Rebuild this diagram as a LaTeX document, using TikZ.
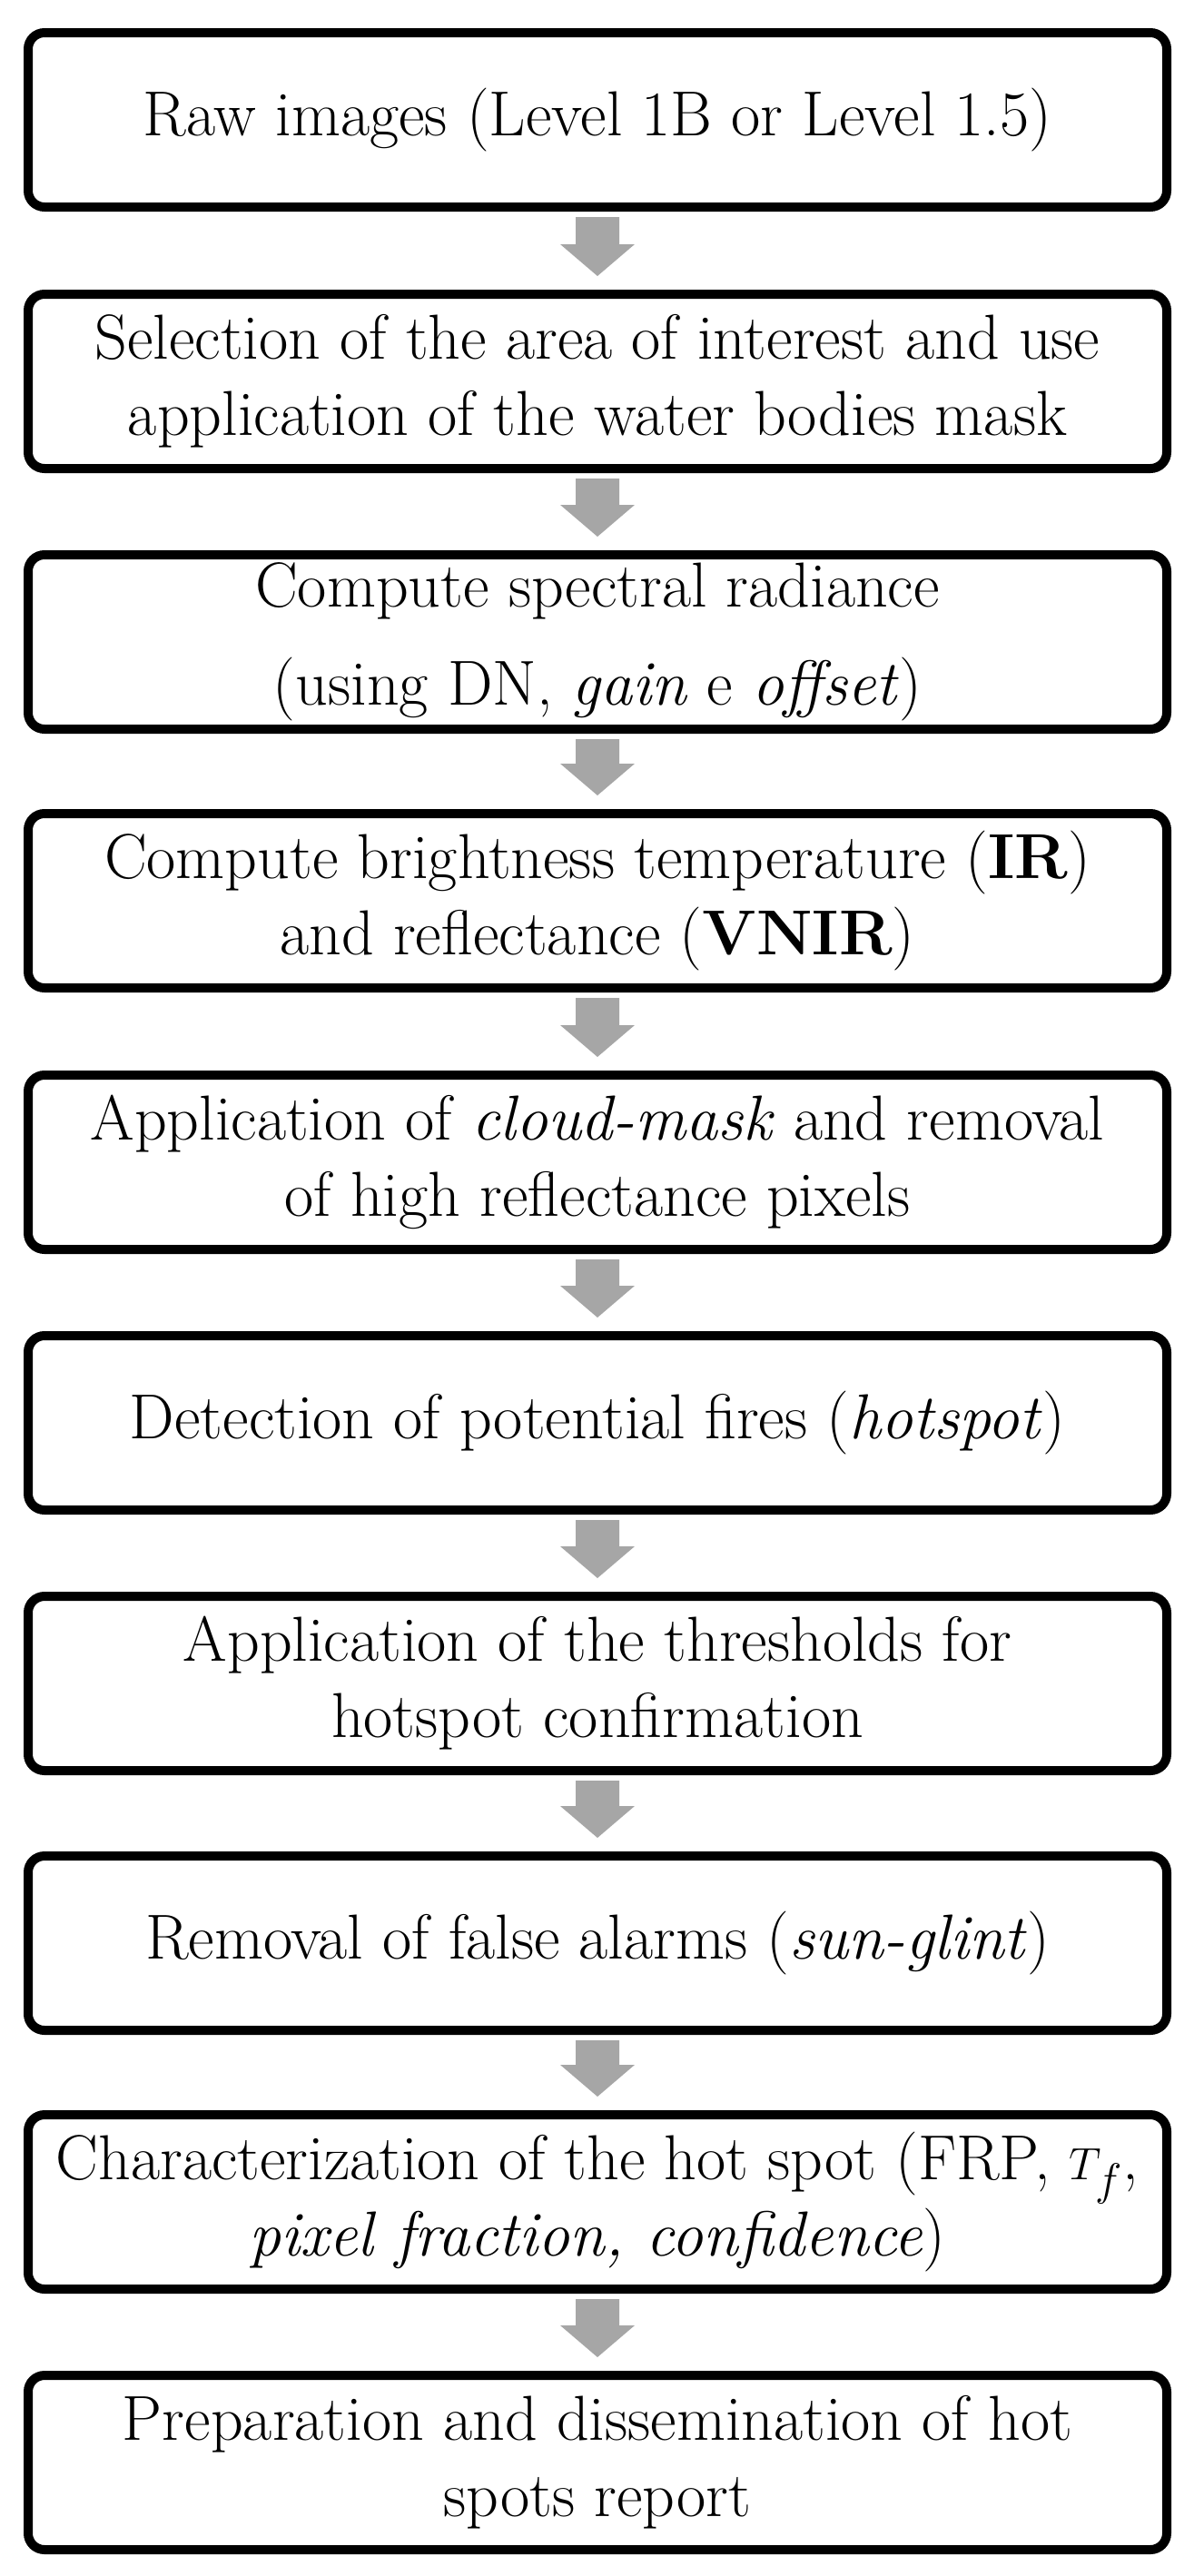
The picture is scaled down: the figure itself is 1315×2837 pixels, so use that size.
\documentclass[tikz,border=0pt]{standalone}
\usetikzlibrary{positioning}
\definecolor{arrgray}{HTML}{A6A6A6}
\newcommand\garrow[2]{\fill[arrgray] ([shift={(-12pt,-3pt)}]#1.south) -- ([shift={(12pt,-3pt)}]#1.south) -- ([shift={(12pt,25pt)}]#2.north) -- ([shift={(20.5pt,25pt)}]#2.north) -- ([shift={(0,7.5pt)}]#2.north) -- ([shift={(-20.5pt,25pt)}]#2.north) -- ([shift={(-12pt,25pt)}]#2.north) -- cycle;}
\begin{document}
\begin{tikzpicture}[x=0.5pt,y=-0.5pt,
  box/.style={draw=black,line width=5pt,rounded corners=9pt,minimum width=627pt,minimum height=96pt,align=center,inner sep=0pt,font=\fontsize{35}{42}\selectfont}]
\useasboundingbox (0,0) rectangle (1315,2837);
\node[box] (b1) at (658,132) {Raw images (Level 1B or Level 1.5)};
\node[box] (b2) at (658,420) {Selection of the area of interest and use\\application of the water bodies mask};
\node[box] (b3) at (658,707) {Compute spectral radiance\\[12pt](using DN, \textit{gain} e \textit{offset})};
\node[box] (b4) at (658,992) {Compute brightness temperature (\textbf{IR})\\and reflectance (\textbf{VNIR})};
\node[box] (b5) at (658,1280) {Application of \textit{cloud-mask} and removal\\of high reflectance pixels};
\node[box] (b6) at (658,1567) {Detection of potential fires (\textit{hotspot})};
\node[box] (b7) at (658,1854) {Application of the thresholds for\\hotspot confirmation};
\node[box] (b8) at (658,2140) {Removal of false alarms (\textit{sun-glint})};
\node[box] (b9) at (658,2425) {Characterization of the hot spot (FRP, $T_f$,\\\textit{pixel fraction, confidence})};
\node[box] (b10) at (658,2712) {Preparation and dissemination of hot\\spots report};
\garrow{b1}{b2}\garrow{b2}{b3}\garrow{b3}{b4}\garrow{b4}{b5}\garrow{b5}{b6}
\garrow{b6}{b7}\garrow{b7}{b8}\garrow{b8}{b9}\garrow{b9}{b10}
\end{tikzpicture}
\end{document}
